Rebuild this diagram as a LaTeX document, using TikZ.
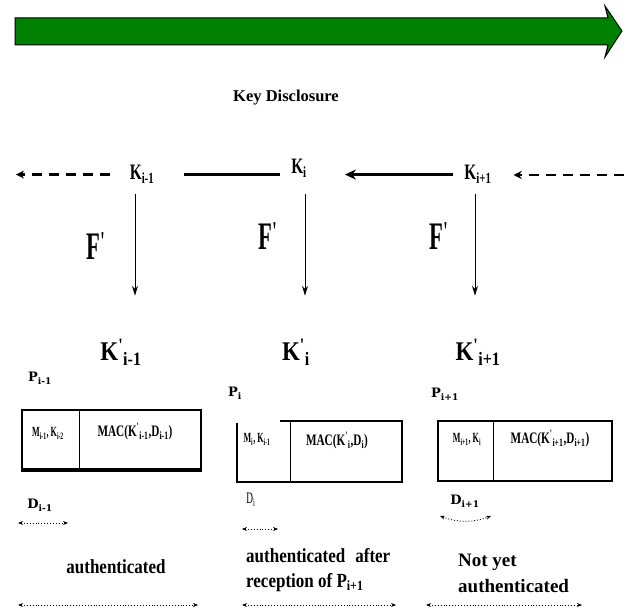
\documentclass[tikz,border=0pt]{standalone}
\usepackage{fontspec}
\setmainfont{Liberation Serif}
\newfontfamily\nfa[FakeStretch=0.7]{Liberation Serif}
\newfontfamily\nfb[FakeStretch=0.58]{Liberation Serif}
\newfontfamily\nfc[FakeStretch=0.85]{Liberation Serif}
\newfontfamily\wide{DejaVu Serif}
\usetikzlibrary{arrows.meta}
\definecolor{tgreen}{RGB}{0,128,0}
\newcommand{\kp}[1]{K\textsuperscript{'}\textsubscript{#1}}

\begin{document}
\begin{tikzpicture}[x=1pt,y=-1pt,
  key/.style={font=\nfa\bfseries\fontsize{22}{22}\selectfont, inner sep=0pt, anchor=base},
  keyp/.style={font=\nfc\bfseries\fontsize{27}{27}\selectfont, inner sep=0pt, anchor=base},
  fn/.style={font=\nfb\bfseries\fontsize{39}{39}\selectfont, inner sep=0pt, anchor=base},
  plab/.style={font=\wide\bfseries\fontsize{13}{13}\selectfont, inner sep=0pt, anchor=base},
  intext/.style={font=\nfb\bfseries\fontsize{14}{14}\selectfont, inner sep=0pt, anchor=base},
  mactext/.style={font=\nfa\bfseries\fontsize{16}{16}\selectfont, inner sep=0pt, anchor=base},
  status/.style={font=\nfc\bfseries\fontsize{20}{25}\selectfont, inner sep=0pt, anchor=base west, align=left},
  dashline/.style={line width=2.5pt, dash pattern=on 10pt off 7pt, -{Stealth[length=8pt,width=8pt]}},
  heavy/.style={line width=3.5pt},
  down/.style={line width=1pt, -{Stealth[length=10pt,width=6pt]}},
  span/.style={line width=0.9pt, dotted, {Stealth[length=5pt,width=4pt]}-{Stealth[length=5pt,width=4pt]}},
  pbox/.style={line width=2pt}]
\useasboundingbox (0,0) rectangle (630,612);

% time line
\filldraw[fill=tgreen, draw=black, line width=1pt] (15,18) -- (608,18) -- (605,6) -- (622,31)
  -- (605,57) -- (608,45) -- (15,45) -- cycle;
\node[font=\bfseries\fontsize{16.5}{16.5}\selectfont, inner sep=0pt] (kd) at (286,98) {Key Disclosure};

% keys
\node[key] (k0) at (142,180) {K\textsubscript{i-1}};
\node[key] (k1) at (299,174) {K\textsubscript{i}};
\node[key] (k2) at (478,180) {K\textsubscript{i+1}};
\coordinate (lend) at (16,175);
\coordinate (rend) at (624,175);
\draw[dashline] ([xshift=-20pt]k0.west) -- (k0.west -| lend);
\draw[heavy, shorten <=30pt, shorten >=11pt] (k0.east) -- (k0.east -| k1.west);
\draw[heavy, -{Stealth[length=11pt,width=10pt]}, shorten <=11pt, shorten >=38pt] (k2.west) -- (k2.west -| k1.east);
\draw[dashline, shorten >=22pt] (rend) -- (rend -| k2.east);

% one way function
\node[keyp] (kp0) at (121,361) {\kp{i-1}};
\node[keyp] (kp1) at (296,361) {\kp{i}};
\node[keyp] (kp2) at (478,361) {\kp{i+1}};
\draw[down] (k0.south -| 135,0) ++(0,10) -- ++(0,102);
\draw[down] (k1.south -| 305,0) ++(0,16) -- ++(0,102);
\draw[down] (k2.south -| 475,0) ++(0,10) -- ++(0,102);
\node[fn] (f0) at (96,260) {F\textsuperscript{'}};
\node[fn] (f1) at (268,250) {F\textsuperscript{'}};
\node[fn] (f2) at (439,250) {F\textsuperscript{'}};

% packets
\node[plab] (p0) at (40,382) {P\textsubscript{i-1}};
\node[plab] (p1) at (235,397) {P\textsubscript{i}};
\node[plab] (p2) at (445,398) {P\textsubscript{i+1}};
\draw[pbox] (22,410) rectangle (201,471);
\draw[line width=3.5pt] (22,470) -- (201,470);
\draw[line width=0.6pt] (79,410) -- (79,470);
\draw[pbox] (280,421) -- (402,421) -- (402,482) -- (237,482) -- (237,423);
\draw[line width=0.6pt] (290,421) -- (290,481);
\draw[pbox] (438,421) rectangle (612,481);
\draw[line width=0.6pt] (493,421) -- (493,480);
\node[intext] (m0) at (48,437) {M\textsubscript{i-1}, K\textsubscript{i-2}};
\node[mactext] (c0) at (135,437) {MAC(K\textsuperscript{'}\textsubscript{i-1},D\textsubscript{i-1})};
\node[intext] (m1) at (257,443) {M\textsubscript{i}, K\textsubscript{i-1}};
\node[mactext] (c1) at (337,446) {MAC(K\textsuperscript{'}\textsubscript{i},D\textsubscript{i})};
\node[intext] (m2) at (467,443) {M\textsubscript{i+1}, K\textsubscript{i}};
\node[mactext] (c2) at (550,444) {MAC(K\textsuperscript{'}\textsubscript{i+1},D\textsubscript{i+1})};

% delays
\node[plab] (d0) at (40,509) {D\textsubscript{i-1}};
\node[intext, font=\nfb\fontsize{16}{16}\selectfont] (d1) at (251,504) {D\textsubscript{i}};
\node[plab] (d2) at (465,505) {D\textsubscript{i+1}};
\draw[span] (18,523) -- (68,523);
\draw[span] (242,529) -- (278,529);
\draw[span] (440,516) to[bend right=20] (491,516);

% authentication state
\node[font=\nfc\bfseries\fontsize{20}{20}\selectfont, inner sep=0pt] (s0) at (116,567) {authenticated};
\node[status] (s1) at (246,587) {authenticated\hspace{10pt}after\\reception of P\textsubscript{i+1}};
\node[status, font=\bfseries\fontsize{19}{26}\selectfont] (s2) at (458,592) {Not yet\\authenticated};
\draw[span] (18,605) -- (198,605);
\draw[span] (242,605) -- (396,605);
\draw[span] (426,605) -- (582,605);
\end{tikzpicture}
\end{document}
